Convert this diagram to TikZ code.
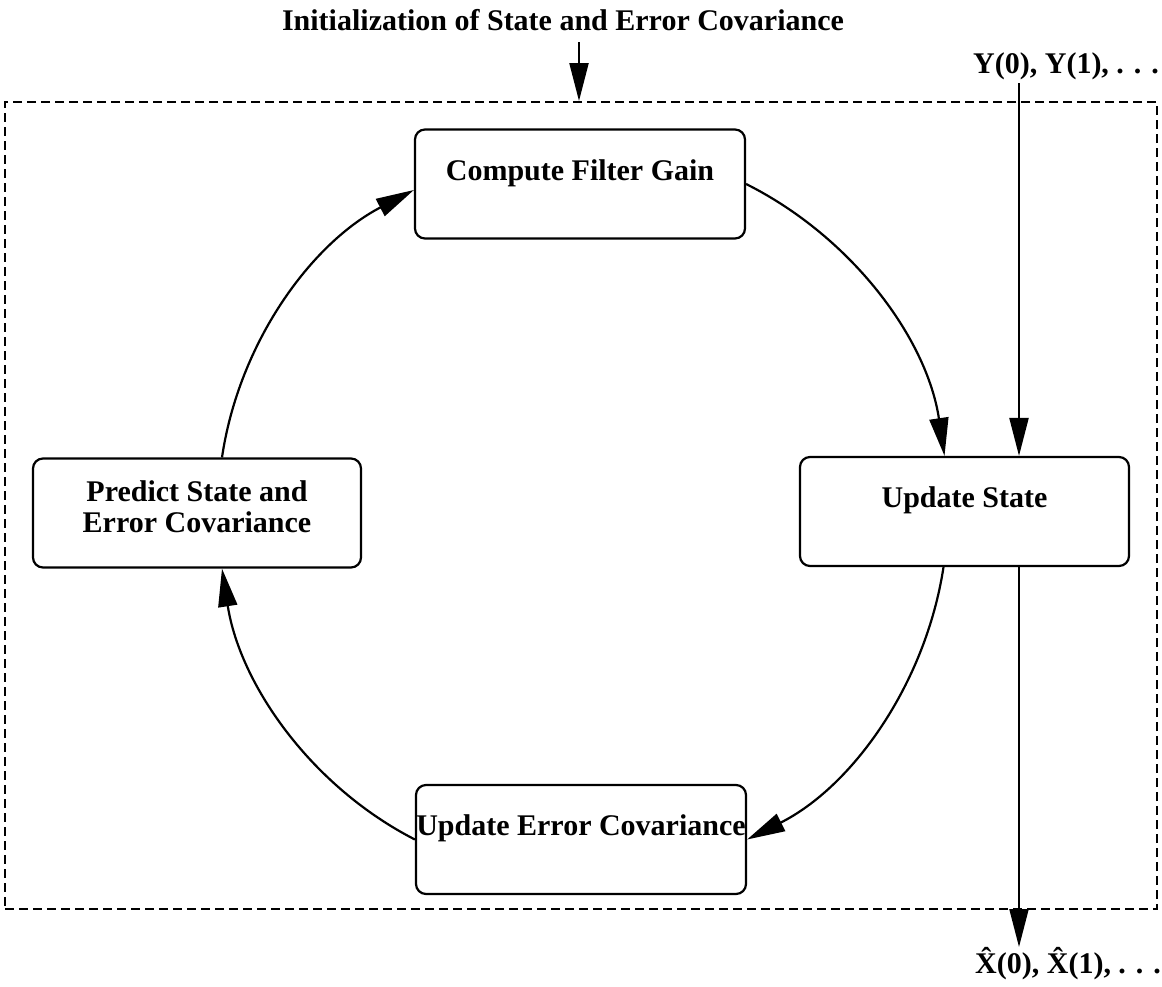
\documentclass[tikz,border=0pt]{standalone}
\usepackage{fontspec}
\setmainfont{Liberation Serif}
\usetikzlibrary{arrows.meta}
\begin{document}
\begin{tikzpicture}[x=1pt,y=1pt,
  box/.style={draw, line width=2.2pt, rounded corners=10pt, minimum width=330pt, minimum height=109pt, inner sep=0pt},
  lbl/.style={font=\fontsize{30}{31}\selectfont\bfseries, inner sep=0pt},
  conn/.style={line width=2.2pt, -{Triangle[length=38pt,width=19pt]}},
  framebox/.style={draw, line width=2pt, dash pattern=on 9pt off 5pt, inner sep=0pt}]
\useasboundingbox (0,0) rectangle (1162,-986);

\node[framebox, minimum width=1152pt, minimum height=807pt] (frame) at (581,-505.5) {};

\node[box] (cfg) at (580,-184) {};
\node[box, minimum width=329pt] (us) at (964.5,-511.5) {};
\node[box] (uec) at (581,-839.5) {};
\node[box, minimum width=328pt] (pse) at (197,-513) {};

\draw[conn] (cfg.east) to[out=-26.6, in=98.5, looseness=0.9] ([xshift=-20pt]us.north);
\draw[conn] ([xshift=-21pt]us.south) to[out=-98.7, in=26.7, looseness=0.9] (uec.east);
\draw[conn] (uec.west) to[out=152.9, in=-81.2, looseness=0.9] ([xshift=25pt]pse.south);
\draw[conn] ([xshift=25pt]pse.north) to[out=81.6, in=207.5, looseness=0.9] ([yshift=-6pt]cfg.west);

\node[lbl, anchor=base] (cfgt) at ([yshift=-52pt]cfg.north) {Compute Filter Gain};
\node[lbl, anchor=base] (ust) at ([yshift=-52pt]us.north) {Update State};
\node[lbl, anchor=base] (uect) at ([yshift=-52pt]uec.north) {Update Error Covariance};
\node[lbl, anchor=base] (pset1) at ([yshift=-44pt]pse.north) {Predict State and};
\node[lbl, anchor=base] (pset2) at ([yshift=-75pt]pse.north) {Error Covariance};

\node[lbl, anchor=base] (title) at (563,-30) {Initialization of State and Error Covariance};
\coordinate (tarr) at (579,-42);
\draw[conn] (tarr) -- (tarr |- frame.north);

\node[lbl, anchor=base west] (ylab) at (973,-73) {Y(0), Y(1), . . .};
\coordinate (ytop) at (1019,-83);
\draw[conn] (ytop) -- (ytop |- us.north);

\node[lbl, anchor=base west] (xlab) at (975,-973) {\^{X}(0), \^{X}(1), . . .};
\coordinate (xbot) at (1019,-947);
\draw[conn] (ytop |- us.south) -- (xbot);
\end{tikzpicture}
\end{document}
